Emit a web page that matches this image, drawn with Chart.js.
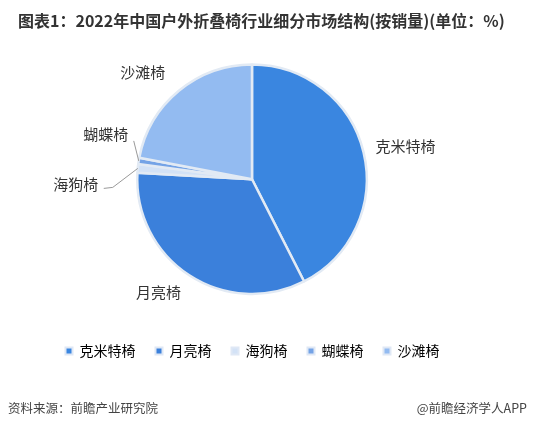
<!DOCTYPE html>
<html>
<head>
<meta charset="utf-8">
<script src="https://cdn.jsdelivr.net/npm/chart.js@4"></script>
<style>
  html, body { margin: 0; padding: 0; background: #fff; }
  #wrap { width: 535px; height: 428px; }
</style>
</head>
<body>
<div id="wrap"><canvas id="chart" width="535" height="428"></canvas></div>
<script>
// chart data
const categories = ["克米特椅", "月亮椅", "海狗椅", "蝴蝶椅", "沙滩椅"]
const shares = [42.5, 33.4, 1.2, 0.9, 22.0]
const sliceColors = ["#3a86e0", "#3b80db", "#d3e2f6", "#74a3e6", "#93bbf1"]

const titleText = "图表1：2022年中国户外折叠椅行业细分市场结构(按销量)(单位：%)"
const sourceText = "资料来源：前瞻产业研究院"
const brandText = "@前瞻经济学人APP"

const FONT = "'Noto Sans CJK SC', 'Microsoft YaHei', sans-serif"

/*
 * draws category names outside the slices
 * small slices get a leader line
 */
const outsideLabels = {
    id: "outsideLabels",
    afterDatasetsDraw (chart, args, opts) {
        const ctx = chart.ctx
        const arcs = chart.getDatasetMeta(0).data
        ctx.save()
        ctx.font = "15px " + FONT
        ctx.fillStyle = "#333"
        ctx.textAlign = "center"
        ctx.textBaseline = "middle"
        arcs.forEach((arc, i) => {
            const p = arc.getProps(["x", "y", "startAngle", "endAngle", "outerRadius"], true)
            const mid = (p.startAngle + p.endAngle) / 2
            const ex = p.x + Math.cos(mid) * p.outerRadius
            const ey = p.y + Math.sin(mid) * p.outerRadius
            const lead = opts.leaders[i]
            if (lead) {
                ctx.strokeStyle = "#999"
                ctx.lineWidth = 1
                ctx.beginPath()
                ctx.moveTo(ex, ey)
                lead.path.forEach(pt => ctx.lineTo(ex + pt[0], ey + pt[1]))
                ctx.stroke()
                ctx.fillText(chart.data.labels[i], ex + lead.text[0], ey + lead.text[1])
            } else {
                const d = p.outerRadius + opts.distance
                const shift = opts.shift[i] || [0, 0]
                ctx.fillText(chart.data.labels[i],
                    p.x + Math.cos(mid) * d + shift[0],
                    p.y + Math.sin(mid) * d + shift[1])
            }
        })
        ctx.restore()
    }
}

// nudges the pie and legend a bit left of centre, like the original
const placement = {
    id: "placement",
    afterLayout (chart, args, opts) {
        const a = chart.chartArea
        a.right -= opts.trimRight
        a.bottom = Math.min(a.bottom, a.top + opts.maxHeight)
        a.width = a.right - a.left
        a.height = a.bottom - a.top
        chart.legend.left -= opts.legendShift
        chart.legend.right -= opts.legendShift
        chart.titleBlock.left += opts.titleIndent
    }
}

const footer = {
    id: "footer",
    afterDraw (chart) {
        const ctx = chart.ctx
        ctx.save()
        ctx.font = "12.5px " + FONT
        ctx.fillStyle = "#444"
        ctx.textBaseline = "middle"
        ctx.textAlign = "left"
        ctx.fillText(sourceText, 8, 408)
        ctx.textAlign = "right"
        ctx.fillText(brandText, 527, 408)
        ctx.restore()
    }
}

const config = {
    type: "pie",
    data: {
        labels: categories,
        datasets: [{
            data: shares,
            backgroundColor: sliceColors,
            borderColor: "#e2eaf4",
            borderWidth: 2.5,
        }],
    },
    options: {
        responsive: false,
        animation: false,
        layout: { padding: { left: 0, right: 0, top: 0, bottom: 60 } },
        plugins: {
            title: {
                display: true,
                text: titleText,
                align: "start",
                color: "#333",
                font: { family: FONT, size: 16, weight: "bold" },
                padding: { top: 11, bottom: 33 },
            },
            legend: {
                position: "bottom",
                labels: {
                    boxWidth: 7,
                    boxHeight: 7,
                    padding: 20,
                    color: "#444",
                    font: { family: FONT, size: 14 },
                    generateLabels (chart) {
                        const ds = chart.data.datasets[0]
                        return chart.data.labels.map((l, i) => ({
                            text: l,
                            fillStyle: ds.backgroundColor[i],
                            strokeStyle: "#dfe8f5",
                            lineWidth: 2,
                            index: i,
                        }))
                    },
                },
            },
            tooltip: { enabled: false },
            placement: { trimRight: 31, maxHeight: 232, legendShift: 15, titleIndent: 18 },
            outsideLabels: {
                distance: 38,
                shift: { 0: [5, 3], 1: [-10, -15], 4: [-12, 11] },
                leaders: {
                    2: { path: [[-25, 19], [-34, 20]], text: [-62, 16] },
                    3: { path: [[-5, -20]], text: [-33, -27] },
                },
            },
        },
    },
    plugins: [placement, outsideLabels, footer],
}

new Chart(document.getElementById("chart").getContext("2d"), config)
</script>
</body>
</html>
